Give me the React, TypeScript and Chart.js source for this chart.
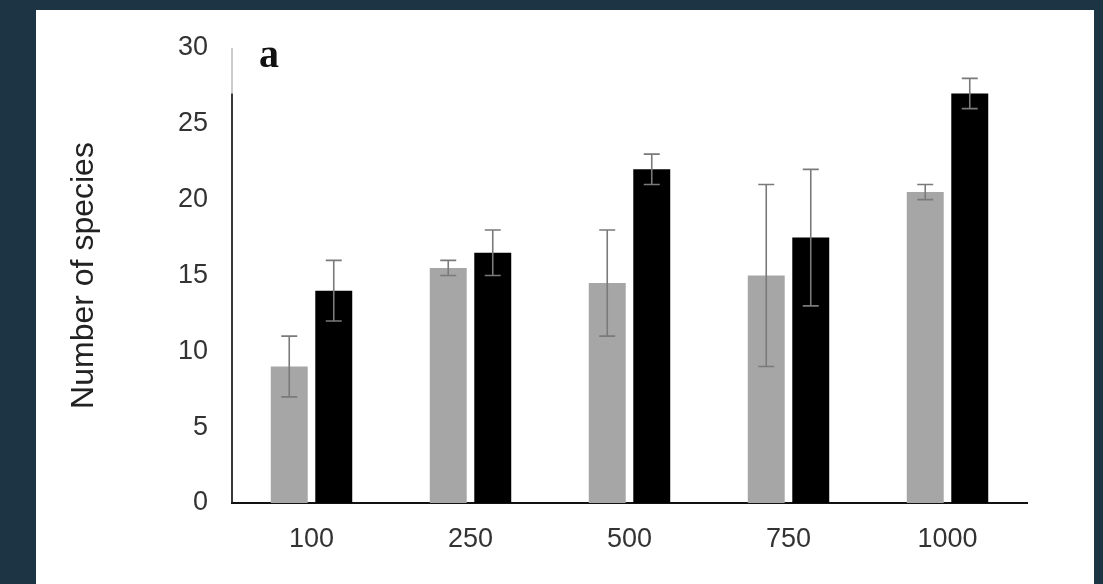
import React, { useEffect, useRef } from "react";
import { Chart, registerables } from "chart.js";

Chart.register(...registerables);

const categories = ["100", "250", "500", "750", "1000"];
const grayValues = [9, 15.5, 14.5, 15, 20.5];
const grayErrors = [2, 0.5, 3.5, 6, 0.5];
const blackValues = [14, 16.5, 22, 17.5, 27];
const blackErrors = [2, 1.5, 1, 4.5, 1];
const yTicks = [0, 5, 10, 15, 20, 25, 30];
const yTitle = "Number of species";
const panelLabel = "a";

const errorBarPlugin = {
  id: "errorBars",
  afterDatasetsDraw(chart: any) {
    const ctx = chart.ctx;
    const yScale = chart.scales.y;
    const errs = [grayErrors, blackErrors];
    ctx.save();
    ctx.strokeStyle = "#7a7a7a";
    ctx.lineWidth = 1.6;
    chart.data.datasets.forEach((ds: any, di: number) => {
      const meta = chart.getDatasetMeta(di);
      meta.data.forEach((bar: any, i: number) => {
        const v = ds.data[i];
        const e = errs[di][i];
        const yTop = yScale.getPixelForValue(v + e);
        const yBot = yScale.getPixelForValue(v - e);
        const x = bar.x;
        const cap = 8;
        ctx.beginPath();
        ctx.moveTo(x, yTop);
        ctx.lineTo(x, yBot);
        ctx.moveTo(x - cap, yTop);
        ctx.lineTo(x + cap, yTop);
        ctx.moveTo(x - cap, yBot);
        ctx.lineTo(x + cap, yBot);
        ctx.stroke();
      });
    });
    ctx.restore();
  },
};

const decorPlugin = {
  id: "decor",
  afterDraw(chart: any) {
    const ctx = chart.ctx;
    const area = chart.chartArea;
    const yScale = chart.scales.y;
    ctx.save();
    const yTopPx = yScale.getPixelForValue(30);
    const yMidPx = yScale.getPixelForValue(27);
    ctx.strokeStyle = "#9a9a9a";
    ctx.lineWidth = 1;
    ctx.beginPath();
    ctx.moveTo(area.left, yTopPx);
    ctx.lineTo(area.left, yMidPx);
    ctx.stroke();
    ctx.strokeStyle = "#222";
    ctx.lineWidth = 1.8;
    ctx.beginPath();
    ctx.moveTo(area.left, yMidPx);
    ctx.lineTo(area.left, area.bottom);
    ctx.stroke();
    ctx.fillStyle = "#222";
    ctx.font = "32px 'Liberation Sans', Arial, sans-serif";
    ctx.textAlign = "center";
    ctx.textBaseline = "middle";
    ctx.translate(84, (area.top + area.bottom) / 2);
    ctx.rotate(-Math.PI / 2);
    ctx.fillText(yTitle, 0, 0);
    ctx.restore();
    ctx.save();
    ctx.fillStyle = "#111";
    ctx.font = "bold 40px 'Liberation Serif', 'Times New Roman', serif";
    ctx.textAlign = "left";
    ctx.textBaseline = "alphabetic";
    ctx.fillText(panelLabel, area.left + 27, 67);
    ctx.restore();
  },
};

export default function App() {
  const canvasRef = useRef<HTMLCanvasElement | null>(null);

  useEffect(() => {
    if (!canvasRef.current) return;
    const chart = new Chart(canvasRef.current, {
      type: "bar",
      data: {
        labels: categories,
        datasets: [
          {
            data: grayValues,
            backgroundColor: "#a6a6a6",
            borderWidth: 0,
            categoryPercentage: 0.56,
            barPercentage: 0.83,
          },
          {
            data: blackValues,
            backgroundColor: "#000000",
            borderWidth: 0,
            categoryPercentage: 0.56,
            barPercentage: 0.83,
          },
        ],
      },
      options: {
        animation: false,
        responsive: false,
        maintainAspectRatio: false,
        layout: { padding: { left: 0, right: 76, top: 48, bottom: 0 } },
        plugins: {
          legend: { display: false },
          tooltip: { enabled: false },
          title: { display: false },
        },
        scales: {
          x: {
            grid: { display: false, drawTicks: false },
            border: { display: true, color: "#111", width: 2 },
            ticks: {
              color: "#333",
              font: { size: 27, family: "'Liberation Sans', Arial, sans-serif" },
              padding: 20,
            },
            afterFit: (scale: any) => {
              scale.height = 81;
            },
          },
          y: {
            min: 0,
            max: 30,
            grid: { display: false, drawTicks: false },
            border: { display: false },
            afterBuildTicks: (scale: any) => {
              scale.ticks = yTicks.map((v) => ({ value: v }));
            },
            ticks: {
              color: "#333",
              font: { size: 27, family: "'Liberation Sans', Arial, sans-serif" },
              padding: 24,
            },
            afterFit: (scale: any) => {
              scale.width = 232;
            },
          },
        },
      },
      plugins: [errorBarPlugin, decorPlugin],
    });
    return () => chart.destroy();
  }, []);

  return (
    <div style={{ position: "fixed", left: 0, top: 0, width: 1103, height: 584, background: "#1c3444" }}>
      <div style={{ position: "absolute", left: 36, top: 10, width: 1058, height: 574, background: "#ffffff" }} />
      <canvas
        ref={canvasRef}
        width={1103}
        height={584}
        style={{ position: "absolute", left: 0, top: 0, width: 1103, height: 584 }}
      />
    </div>
  );
}
